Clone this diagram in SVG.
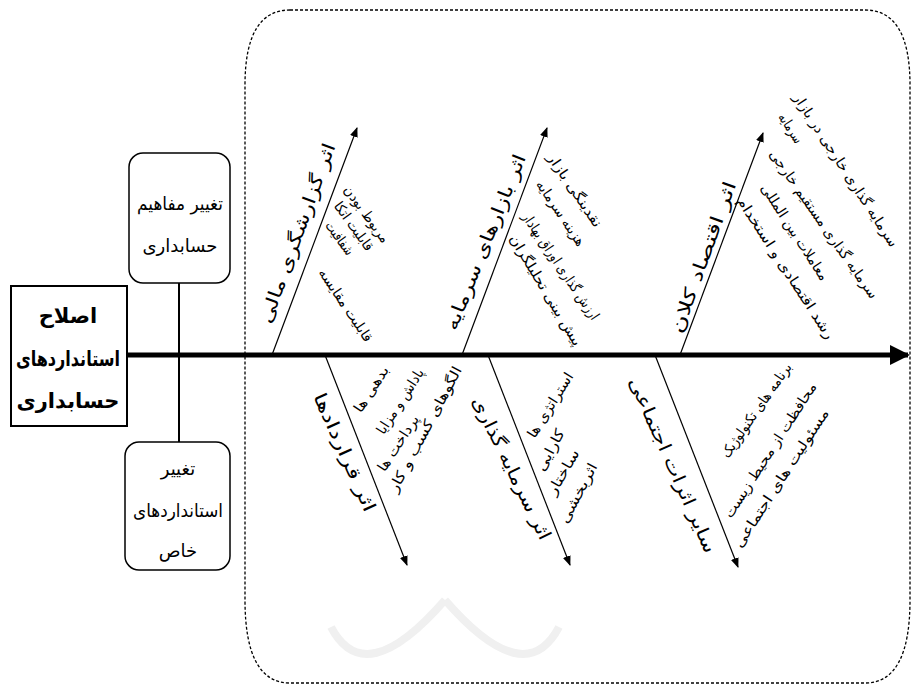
<svg xmlns="http://www.w3.org/2000/svg" width="913" height="686" viewBox="0 0 913 686">
<defs>
<marker id="ah" viewBox="0 0 10 10" refX="9" refY="5" markerWidth="10" markerHeight="10" markerUnits="userSpaceOnUse" orient="auto">
<path d="M0,1 L10,5 L0,9 Z" fill="#000"/>
</marker>
<marker id="ahBig" viewBox="0 0 10 10" refX="9" refY="5" markerWidth="4" markerHeight="4" orient="auto">
<path d="M0,0 L10,5 L0,10 Z" fill="#000"/>
</marker>
<style>
text{font-family:"DejaVu Sans",sans-serif;fill:#000;}
.lab{font-size:18px;}
.it{font-size:14px;}
.box{font-size:18px;}
.main{font-size:21px;font-weight:bold;}
.br{stroke:#000;stroke-width:1.2;fill:none;marker-end:url(#ah);}
</style>
</defs>
<rect width="913" height="686" fill="#fff"/>
<g id="watermark" fill="none" stroke="#f0f0f0" stroke-width="8">
<path d="M331,627 Q365,692 445,600"/>
<path d="M445,600 Q525,692 559,627"/>
</g>
<g id="container">
<path d="M290,10 L865,10 Q910,10 910,85 L910,600 Q910,683 865,683 L290,683 Q245,683 245,600 L245,85 Q245,10 290,10 Z" fill="none" stroke="#000" stroke-width="1.3" stroke-dasharray="3,2"/>
</g>
<g id="connectors">
<line x1="127" y1="355" x2="908" y2="355" stroke="#000" stroke-width="5" marker-end="url(#ahBig)"/>
<line x1="179" y1="283" x2="179" y2="442" stroke="#000" stroke-width="2"/>
<line class="br" x1="272" y1="355" x2="357" y2="128"/>
<line class="br" x1="462" y1="355" x2="547" y2="128"/>
<line class="br" x1="680" y1="355" x2="763" y2="133"/>
<line class="br" x1="325" y1="355" x2="407" y2="565"/>
<line class="br" x1="488" y1="355" x2="570" y2="565"/>
<line class="br" x1="655" y1="355" x2="738" y2="567"/>
</g>
<g id="main-node">
<rect x="11" y="286" width="116" height="140" fill="#fff" stroke="#000" stroke-width="2"/>
<text class="main" x="68" y="316" text-anchor="middle" dominant-baseline="central">اصلاح</text>
<text class="main" x="68" y="359" text-anchor="middle" dominant-baseline="central" textLength="104" lengthAdjust="spacingAndGlyphs">استانداردهای</text>
<text class="main" x="68" y="401" text-anchor="middle" dominant-baseline="central">حسابداری</text>
</g>
<g id="node-concepts">
<rect x="129" y="153" width="101" height="130" rx="14" fill="#fff" stroke="#000" stroke-width="1.5"/>
<text class="box" x="180" y="203" text-anchor="middle" dominant-baseline="central" textLength="86" lengthAdjust="spacingAndGlyphs">تغییر مفاهیم</text>
<text class="box" x="180" y="245" text-anchor="middle" dominant-baseline="central">حسابداری</text>
</g>
<g id="node-special">
<rect x="125" y="442" width="105" height="128" rx="14" fill="#fff" stroke="#000" stroke-width="1.5"/>
<text class="box" x="178" y="468" text-anchor="middle" dominant-baseline="central">تغییر</text>
<text class="box" x="178" y="510" text-anchor="middle" dominant-baseline="central" textLength="90" lengthAdjust="spacingAndGlyphs">استانداردهای</text>
<text class="box" x="178" y="550" text-anchor="middle" dominant-baseline="central">خاص</text>
</g>
<g id="branch-reporting">
<text class="lab" transform="translate(297,233) rotate(-70)" text-anchor="middle" dominant-baseline="central" textLength="190" lengthAdjust="spacingAndGlyphs">اثر گزارشگری مالی</text>
<text class="it" transform="translate(367,214) rotate(54)" text-anchor="middle" dominant-baseline="central" textLength="67" lengthAdjust="spacingAndGlyphs">مربوط بودن</text>
<text class="it" transform="translate(354,226) rotate(54)" text-anchor="middle" dominant-baseline="central" textLength="57" lengthAdjust="spacingAndGlyphs">قابلیت اتکا</text>
<text class="it" transform="translate(340,238) rotate(54)" text-anchor="middle" dominant-baseline="central" textLength="38" lengthAdjust="spacingAndGlyphs">شفافیت</text>
<text class="it" transform="translate(346,305) rotate(56)" text-anchor="middle" dominant-baseline="central" textLength="85" lengthAdjust="spacingAndGlyphs">قابلیت مقایسه</text>
</g>
<g id="branch-capital-markets">
<text class="lab" transform="translate(485,242) rotate(-68)" text-anchor="middle" dominant-baseline="central" textLength="188" lengthAdjust="spacingAndGlyphs">اثر بازارهای سرمایه</text>
<text class="it" transform="translate(575,190) rotate(56)" text-anchor="middle" dominant-baseline="central" textLength="86" lengthAdjust="spacingAndGlyphs">نقدینگی بازار</text>
<text class="it" transform="translate(561,213) rotate(56)" text-anchor="middle" dominant-baseline="central" textLength="76" lengthAdjust="spacingAndGlyphs">هزینه سرمایه</text>
<text class="it" transform="translate(561,266) rotate(56)" text-anchor="middle" dominant-baseline="central" textLength="126" lengthAdjust="spacingAndGlyphs">ارزش گذاری اوراق بهادار</text>
<text class="it" transform="translate(546,290) rotate(59)" text-anchor="middle" dominant-baseline="central" textLength="127" lengthAdjust="spacingAndGlyphs">پیش بینی تحلیلگران</text>
</g>
<g id="branch-macro">
<text class="lab" transform="translate(703,257) rotate(-70)" text-anchor="middle" dominant-baseline="central" textLength="160" lengthAdjust="spacingAndGlyphs">اثر اقتصاد کلان</text>
<text class="it" transform="translate(846,170) rotate(57)" text-anchor="middle" dominant-baseline="central" textLength="180" lengthAdjust="spacingAndGlyphs">سرمایه گذاری خارجی در بازار</text>
<text class="it" transform="translate(791,128) rotate(57)" text-anchor="middle" dominant-baseline="central" textLength="33" lengthAdjust="spacingAndGlyphs">سرمایه</text>
<text class="it" transform="translate(824,224) rotate(55)" text-anchor="middle" dominant-baseline="central" textLength="178" lengthAdjust="spacingAndGlyphs">سرمایه گذاری مستقیم خارجی</text>
<text class="it" transform="translate(795,232) rotate(57)" text-anchor="middle" dominant-baseline="central" textLength="112" lengthAdjust="spacingAndGlyphs">معاملات بین المللی</text>
<text class="it" transform="translate(786,268) rotate(57)" text-anchor="middle" dominant-baseline="central" textLength="166" lengthAdjust="spacingAndGlyphs">رشد اقتصادی و استخدام</text>
</g>
<g id="branch-contracts">
<text class="lab" transform="translate(345,452) rotate(66)" text-anchor="middle" dominant-baseline="central" textLength="128" lengthAdjust="spacingAndGlyphs">اثر قراردادها</text>
<text class="it" transform="translate(371,389) rotate(-57)" text-anchor="middle" dominant-baseline="central" textLength="52" lengthAdjust="spacingAndGlyphs">بدهی ها</text>
<text class="it" transform="translate(400,401) rotate(-57)" text-anchor="middle" dominant-baseline="central" textLength="75" lengthAdjust="spacingAndGlyphs">پاداش و مزایا</text>
<text class="it" transform="translate(398,443) rotate(-57)" text-anchor="middle" dominant-baseline="central" textLength="64" lengthAdjust="spacingAndGlyphs">پرداخت ها</text>
<text class="it" transform="translate(425,429) rotate(-62)" text-anchor="middle" dominant-baseline="central" textLength="140" lengthAdjust="spacingAndGlyphs">الگوهای کسب و کار</text>
</g>
<g id="branch-investment">
<text class="lab" transform="translate(512,468) rotate(64)" text-anchor="middle" dominant-baseline="central" textLength="157" lengthAdjust="spacingAndGlyphs">اثر سرمایه گذاری</text>
<text class="it" transform="translate(550,405) rotate(-58)" text-anchor="middle" dominant-baseline="central" textLength="74" lengthAdjust="spacingAndGlyphs">استراتژی ها</text>
<text class="it" transform="translate(550,450) rotate(-62)" text-anchor="middle" dominant-baseline="central" textLength="45" lengthAdjust="spacingAndGlyphs">کارایی</text>
<text class="it" transform="translate(563,472) rotate(-60)" text-anchor="middle" dominant-baseline="central" textLength="50" lengthAdjust="spacingAndGlyphs">ساختار</text>
<text class="it" transform="translate(578,493) rotate(-62)" text-anchor="middle" dominant-baseline="central" textLength="66" lengthAdjust="spacingAndGlyphs">اثربخشی</text>
</g>
<g id="branch-social">
<text class="lab" transform="translate(673,465) rotate(66)" text-anchor="middle" dominant-baseline="central" textLength="190" lengthAdjust="spacingAndGlyphs">سایر اثرات اجتماعی</text>
<text class="it" transform="translate(756,410) rotate(-55)" text-anchor="middle" dominant-baseline="central" textLength="112" lengthAdjust="spacingAndGlyphs">برنامه های تکنولوژیک</text>
<text class="it" transform="translate(770,450) rotate(-57)" text-anchor="middle" dominant-baseline="central" textLength="158" lengthAdjust="spacingAndGlyphs">محافظت از محیط زیست</text>
<text class="it" transform="translate(781,478) rotate(-57)" text-anchor="middle" dominant-baseline="central" textLength="162" lengthAdjust="spacingAndGlyphs">مسئولیت های اجتماعی</text>
</g>
</svg>
